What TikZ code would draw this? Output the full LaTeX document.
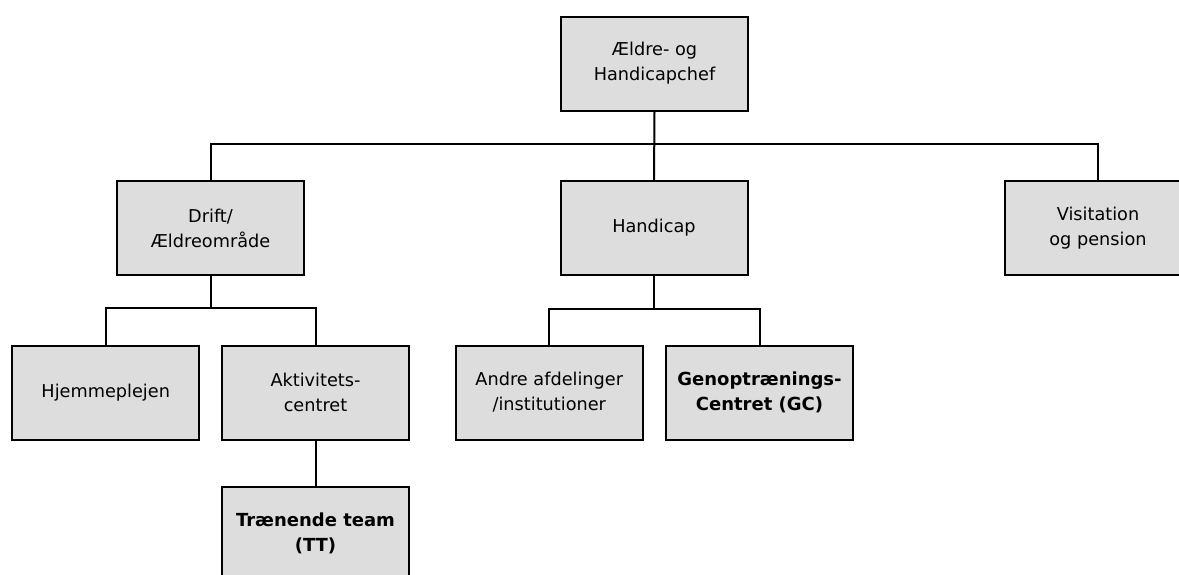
\documentclass[tikz,border=0pt]{standalone}
\usepackage{fontspec}
\setmainfont{DejaVu Sans}
\begin{document}
\begin{tikzpicture}[x=1pt,y=-1pt,
  box/.style={draw=black,line width=2pt,fill=boxgray,minimum width=187pt,minimum height=94pt,align=center,font=\fontsize{17.7}{25}\selectfont,inner sep=0pt},
  boldbox/.style={box,font=\fontsize{18}{25}\selectfont\bfseries},
  conn/.style={line width=2pt}]
\definecolor{boxgray}{HTML}{DDDDDD}
\useasboundingbox (0,0) rectangle (1179,574);
\node[box] (top) at (654.5,63.5) {Ældre- og\\Handicapchef};
\node[box] (drift) at (210.5,228) {Drift/\\Ældreområde};
\node[box] (handicap) at (654,228) {Handicap};
\node[box] (visit) at (1098,228) {Visitation\\og pension};
\node[box] (hjem) at (105.75,392.5) {Hjemmeplejen};
\node[box] (akt) at (315.5,392.5) {Aktivitets-\\centret};
\node[box] (andre) at (549.3,392.5) {Andre afdelinger\\/institutioner};
\node[boldbox] (genop) at (759.5,392.5) {Genoptrænings-\\Centret (GC)};
\node[boldbox] (tt) at (315.5,533.5) {Trænende team\\(TT)};
\coordinate (bus) at (0,144);
\coordinate (subA) at (0,308);
\coordinate (subB) at (0,309);
\draw[conn] (top.south) -- (handicap.north);
\draw[conn] (drift.north) -- (drift.north |- bus) -- (visit.north |- bus) -- (visit.north);
\draw[conn] (drift.south) -- (drift.south |- subA);
\draw[conn] (hjem.north) -- (hjem.north |- subA) -- (akt.north |- subA) -- (akt.north);
\draw[conn] (handicap.south) -- (handicap.south |- subB);
\draw[conn] (andre.north) -- (andre.north |- subB) -- (genop.north |- subB) -- (genop.north);
\draw[conn] (akt.south) -- (tt.north);
\end{tikzpicture}
\end{document}
